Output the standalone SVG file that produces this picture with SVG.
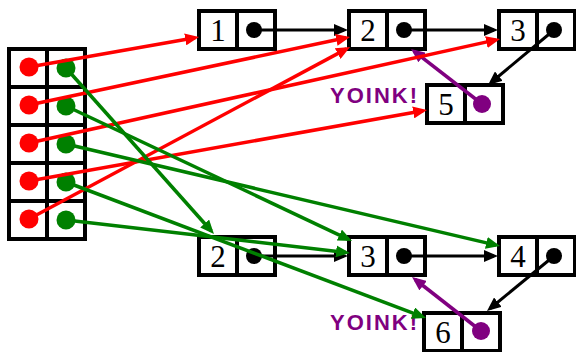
<svg xmlns="http://www.w3.org/2000/svg" width="576" height="352" viewBox="0 0 576 352">
<style>
.cell{fill:#fff;stroke:#000;stroke-width:4}
.num{font-family:"Liberation Serif",serif;font-size:31px;text-anchor:middle;fill:#000}
.yoink{font-family:"Liberation Sans",sans-serif;font-weight:bold;font-size:22px;fill:#800080;letter-spacing:2px}
.k{stroke:#000;stroke-width:3;fill:none}
.r{stroke:#f00;stroke-width:3.5;fill:none}
.g{stroke:#008000;stroke-width:3.5;fill:none}
.p{stroke:#800080;stroke-width:3.5;fill:none}
</style>
<defs>
<marker id="ak" markerUnits="userSpaceOnUse" markerWidth="14" markerHeight="12" refX="10" refY="6" orient="auto"><path d="M0,0 L14,6 L0,12 z" fill="#000"/></marker>
<marker id="ar" markerUnits="userSpaceOnUse" markerWidth="14" markerHeight="12" refX="10" refY="6" orient="auto"><path d="M0,0 L14,6 L0,12 z" fill="#f00"/></marker>
<marker id="ag" markerUnits="userSpaceOnUse" markerWidth="14" markerHeight="12" refX="10" refY="6" orient="auto"><path d="M0,0 L14,6 L0,12 z" fill="#008000"/></marker>
<marker id="ap" markerUnits="userSpaceOnUse" markerWidth="14" markerHeight="12" refX="10" refY="6" orient="auto"><path d="M0,0 L14,6 L0,12 z" fill="#800080"/></marker>
</defs>
<rect width="576" height="352" fill="#fff"/>
<g id="array">
<rect class="cell" x="9" y="49" width="38" height="38"/><rect class="cell" x="47" y="49" width="38" height="38"/>
<rect class="cell" x="9" y="87" width="38" height="38"/><rect class="cell" x="47" y="87" width="38" height="38"/>
<rect class="cell" x="9" y="125" width="38" height="38"/><rect class="cell" x="47" y="125" width="38" height="38"/>
<rect class="cell" x="9" y="163" width="38" height="38"/><rect class="cell" x="47" y="163" width="38" height="38"/>
<rect class="cell" x="9" y="201" width="38" height="38"/><rect class="cell" x="47" y="201" width="38" height="38"/>
<g fill="#f00"><circle cx="29" cy="67" r="9.5"/><circle cx="29" cy="105" r="9.5"/><circle cx="29" cy="143" r="9.5"/><circle cx="29" cy="181" r="9.5"/><circle cx="29" cy="219" r="9.5"/></g>
<g fill="#008000"><circle cx="66" cy="68" r="9.5"/><circle cx="66" cy="106" r="9.5"/><circle cx="66" cy="144" r="9.5"/><circle cx="66" cy="182" r="9.5"/><circle cx="66" cy="220" r="9.5"/></g>
</g>
<g id="n1"><rect class="cell" x="199" y="11" width="38" height="38"/><rect class="cell" x="237" y="11" width="38" height="38"/><text class="num" x="218" y="41">1</text><circle cx="254" cy="30" r="8"/></g>
<g id="n2top"><rect class="cell" x="349" y="11" width="38" height="38"/><rect class="cell" x="387" y="11" width="38" height="38"/><text class="num" x="368" y="41">2</text><circle cx="404" cy="30" r="8"/></g>
<g id="n3top"><rect class="cell" x="499" y="11" width="38" height="38"/><rect class="cell" x="537" y="11" width="38" height="38"/><text class="num" x="518" y="41">3</text><circle cx="554" cy="30" r="8"/></g>
<g id="n5"><rect class="cell" x="427" y="85" width="38" height="38"/><rect class="cell" x="465" y="85" width="38" height="38"/><text class="num" x="446" y="115">5</text><circle cx="482" cy="104" r="9" fill="#800080"/></g>
<g id="n2bot"><rect class="cell" x="199" y="237" width="38" height="38"/><rect class="cell" x="237" y="237" width="38" height="38"/><text class="num" x="218" y="267">2</text><circle cx="254" cy="256" r="8"/></g>
<g id="n3bot"><rect class="cell" x="349" y="237" width="38" height="38"/><rect class="cell" x="387" y="237" width="38" height="38"/><text class="num" x="368" y="267">3</text><circle cx="404" cy="256" r="8"/></g>
<g id="n4"><rect class="cell" x="499" y="237" width="38" height="38"/><rect class="cell" x="537" y="237" width="38" height="38"/><text class="num" x="518" y="267">4</text><circle cx="554" cy="256" r="8"/></g>
<g id="n6"><rect class="cell" x="424" y="313" width="38" height="38"/><rect class="cell" x="462" y="313" width="38" height="38"/><text class="num" x="443" y="343">6</text><circle cx="481" cy="331" r="9" fill="#800080"/></g>
<g id="labels"><text class="yoink" x="330" y="103">YOINK!</text><text class="yoink" x="330" y="330">YOINK!</text></g>
<g id="connectors">
<line class="k" x1="254" y1="30" x2="344" y2="30" marker-end="url(#ak)"/>
<line class="k" x1="404" y1="30" x2="494" y2="30" marker-end="url(#ak)"/>
<line class="k" x1="554" y1="30" x2="491.1" y2="82.5" marker-end="url(#ak)"/>
<line class="k" x1="254" y1="256" x2="344" y2="256" marker-end="url(#ak)"/>
<line class="k" x1="404" y1="256" x2="494" y2="256" marker-end="url(#ak)"/>
<line class="k" x1="554" y1="256" x2="490.1" y2="308.5" marker-end="url(#ak)"/>
<line class="p" x1="482" y1="104" x2="414.2" y2="51.4" marker-end="url(#ap)"/>
<line class="p" x1="481" y1="331" x2="415.2" y2="279.5" marker-end="url(#ap)"/>
<line class="r" x1="29" y1="67" x2="195.1" y2="37.7" marker-end="url(#ar)"/>
<line class="r" x1="29" y1="105" x2="346.1" y2="37.8" marker-end="url(#ar)"/>
<line class="r" x1="29" y1="143" x2="496.1" y2="39.9" marker-end="url(#ar)"/>
<line class="r" x1="29" y1="181" x2="423.1" y2="110.7" marker-end="url(#ar)"/>
<line class="r" x1="29" y1="219" x2="346.5" y2="48.9" marker-end="url(#ar)"/>
<line class="g" x1="66" y1="68" x2="211.3" y2="231" marker-end="url(#ag)"/>
<line class="g" x1="66" y1="106" x2="348.4" y2="239.3" marker-end="url(#ag)"/>
<line class="g" x1="66" y1="144" x2="496.1" y2="245.1" marker-end="url(#ag)"/>
<line class="g" x1="66" y1="182" x2="422.3" y2="316.6" marker-end="url(#ag)"/>
<line class="g" x1="66" y1="220" x2="346" y2="252.5" marker-end="url(#ag)"/>
</g>
</svg>
